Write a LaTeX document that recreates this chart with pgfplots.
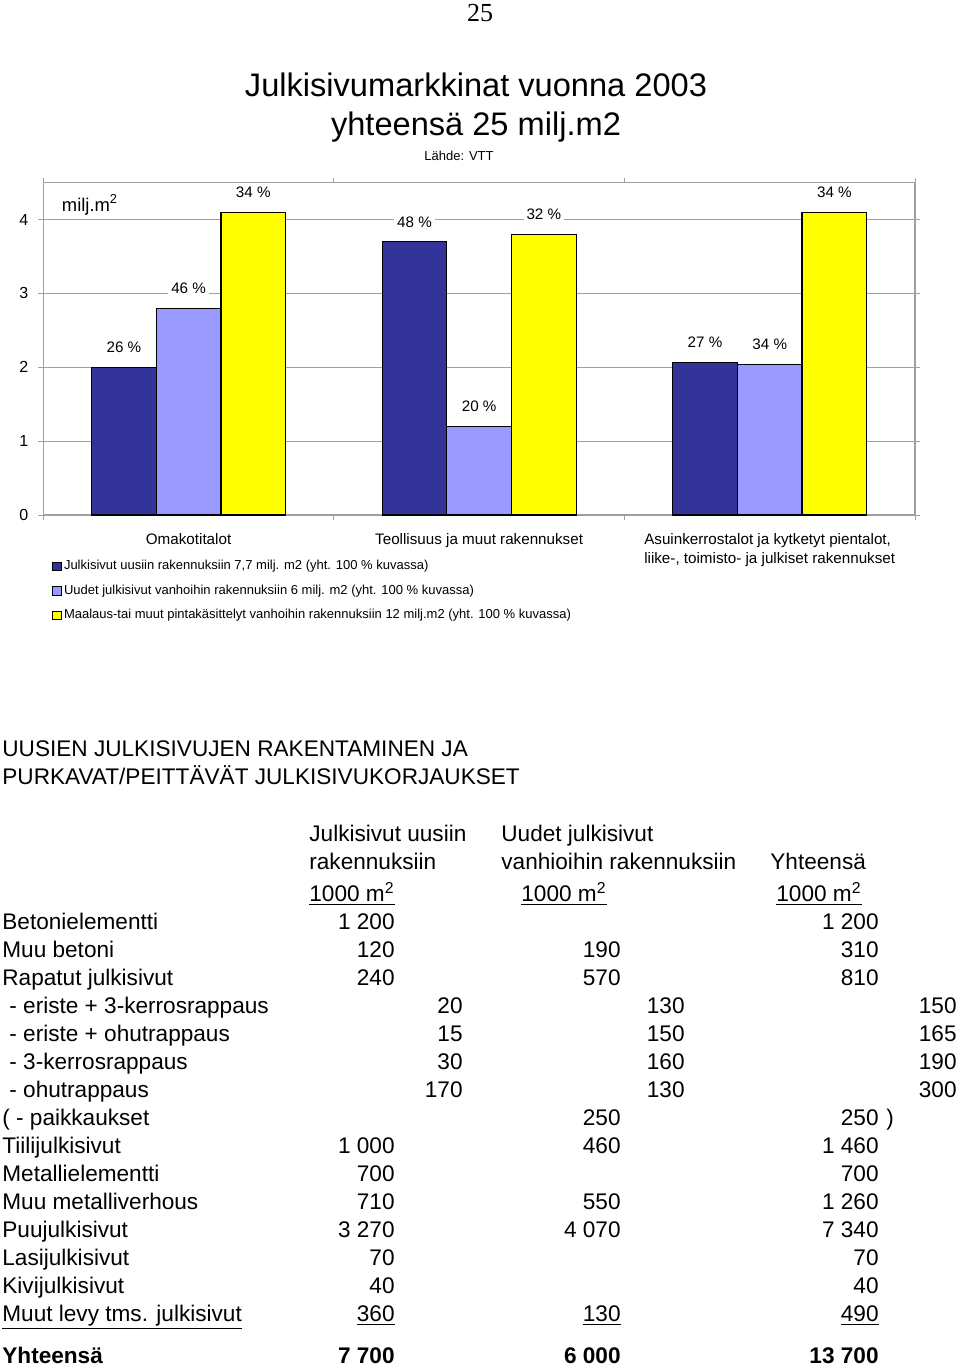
\documentclass[border=0pt]{standalone}
\usepackage{fontspec}
\setmainfont{Liberation Sans}
\newfontfamily\serif{Liberation Serif}
\usepackage{pgfplots}
\pgfplotsset{compat=1.18}
\definecolor{cDark}{HTML}{333399}
\definecolor{cLight}{HTML}{9999FF}
\definecolor{cYel}{HTML}{FFFF00}
\definecolor{cGrid}{HTML}{A0A0A0}
\newcommand\fs[2]{\fontsize{#1}{#2}\selectfont}
\newcommand\trow[5]{%
 \node[anchor=base west] at (2,#1) {#2};
 \node[anchor=base east] at (395,#1) {#3};
 \node[anchor=base east] at (621,#1) {#4};
 \node[anchor=base east] at (879,#1) {#5};}
\newcommand\srow[5]{%
 \node[anchor=base west] at (9,#1) {#2};
 \node[anchor=base east] at (463,#1) {#3};
 \node[anchor=base east] at (685,#1) {#4};
 \node[anchor=base east] at (957,#1) {#5};}
\pgfplotsset{
 mybar/.style={ybar, bar width=0.2226, draw=black, line width=0.6pt,
   nodes near coords, point meta=explicit symbolic,
   every node near coord/.style={font=\fs{7.6}{9}, fill=white, inner sep=1.5pt, anchor=center, yshift=10pt, xshift=#1, text=black},
   legend image code/.code={\draw[##1,draw=black,line width=0.4pt] (0pt,-2.2pt) rectangle (4.4pt,2.2pt);}}
}
\begin{document}
\begin{tikzpicture}
\begin{scope}[x=0.5pt,y=-0.5pt,every node/.style={inner sep=0pt}]
\path (0,0) rectangle (960,1366);
\node[font=\serif\fs{13}{15}, anchor=base] at (480,21) {25};
\node[font=\fs{16.3}{19.5}, anchor=base] at (476,96) {Julkisivumarkkinat vuonna 2003};
\node[font=\fs{16.3}{19.5}, anchor=base] at (476,135) {yhteensä 25 milj.m2};
\node[font=\fs{6.5}{8}, anchor=base] at (459,160) {Lähde: VTT};
\begin{scope}[font=\fs{11.3}{14}]
\node[anchor=base west] at (2,756) {UUSIEN JULKISIVUJEN RAKENTAMINEN JA};
\node[anchor=base west] at (2,784) {PURKAVAT/PEITTÄVÄT JULKISIVUKORJAUKSET};
\node[anchor=base west] at (309,841) {Julkisivut uusiin};
\node[anchor=base west] at (309,869) {rakennuksiin};
\node[anchor=base west] at (309,901) {\underline{1000 m\textsuperscript{2}}};
\node[anchor=base west] at (501,841) {Uudet julkisivut};
\node[anchor=base west] at (501,869) {vanhioihin rakennuksiin};
\node[anchor=base west] at (521,901) {\underline{1000 m\textsuperscript{2}}};
\node[anchor=base west] at (770,869) {Yhteensä};
\node[anchor=base west] at (776,901) {\underline{1000 m\textsuperscript{2}}};
\trow{929}{Betonielementti}{1 200}{}{1 200}
\trow{957}{Muu betoni}{120}{190}{310}
\trow{985}{Rapatut julkisivut}{240}{570}{810}
\srow{1013}{- eriste + 3-kerrosrappaus}{20}{130}{150}
\srow{1041}{- eriste + ohutrappaus}{15}{150}{165}
\srow{1069}{- 3-kerrosrappaus}{30}{160}{190}
\srow{1097}{- ohutrappaus}{170}{130}{300}
\trow{1125}{( - paikkaukset}{}{250}{250}
\node[anchor=base west] at (886,1125) {)};
\trow{1153}{Tiilijulkisivut}{1 000}{460}{1 460}
\trow{1181}{Metallielementti}{700}{}{700}
\trow{1209}{Muu metalliverhous}{710}{550}{1 260}
\trow{1237}{Puujulkisivut}{3 270}{4 070}{7 340}
\trow{1265}{Lasijulkisivut}{70}{}{70}
\trow{1293}{Kivijulkisivut}{40}{}{40}
\trow{1321}{\underline{Muut levy tms. julkisivut}}{\underline{360}}{\underline{130}}{\underline{490}}
\trow{1363}{\bfseries Yhteensä}{\bfseries 7 700}{\bfseries 6 000}{\bfseries 13 700}
\end{scope}
\end{scope}
\begin{axis}[
  at={(21.65pt,-257.5pt)}, anchor=south west,
  scale only axis, width=435.85pt, height=166.15pt,
  xmin=-0.5, xmax=2.5, ymin=0, ymax=4.5,
  ytick={0,1,2,3,4},
  xtick={0,1,2},
  xticklabels={Omakotitalot, Teollisuus ja muut rakennukset, {Asuinkerrostalot ja kytketyt pientalot,\\liike-, toimisto- ja julkiset rakennukset}},
  minor xtick={-0.5,0.5,1.5,2.5},
  major x tick style={draw=none},
  tick align=outside,
  major tick length=2.5pt, minor tick length=2.5pt,
  ymajorgrids, grid style={cGrid, line width=0.5pt},
  axis line style={cGrid, line width=0.6pt},
  tick style={cGrid, line width=0.5pt},
  xticklabel style={font=\fs{7.6}{9.5}, align=left, yshift=-3pt, text=black},
  yticklabel style={font=\fs{8}{9}, xshift=-1.5pt, text=black},
  /pgf/number format/assume math mode=true,
  legend style={at={(0.01,-0.129)}, anchor=north west, draw=none, fill=none,
     font=\fs{6.5}{8}, inner sep=0pt, row sep=4pt, nodes={inner sep=1pt}},
  legend cell align=left,
]
\addplot[mybar=-32.34pt, bar shift=-0.2226, fill=cDark] coordinates {(0,2.0)[26 \%] (1,3.7)[48 \%] (2,2.07)[27 \%]};
\addplot[mybar=0pt, bar shift=0, fill=cLight] coordinates {(0,2.8)[46 \%] (1,1.2)[20 \%] (2,2.04)[34 \%]};
\addplot[mybar=32.34pt, bar shift=0.2226, fill=cYel] coordinates {(0,4.1)[34 \%] (1,3.8)[32 \%] (2,4.1)[34 \%]};
\legend{{Julkisivut uusiin rakennuksiin 7,7 milj. m2 (yht. 100 \% kuvassa)},
        {Uudet julkisivut vanhoihin rakennuksiin 6 milj. m2 (yht. 100 \% kuvassa)},
        {Maalaus-tai muut pintakäsittelyt vanhoihin rakennuksiin 12 milj.m2 (yht. 100 \% kuvassa)}}
\node[font=\fs{9.2}{11}, fill=white, inner xsep=3pt, inner ysep=1pt] at (rel axis cs:0.0536,0.933) {milj.m\textsuperscript{2}};
\end{axis}
\end{tikzpicture}
\end{document}
